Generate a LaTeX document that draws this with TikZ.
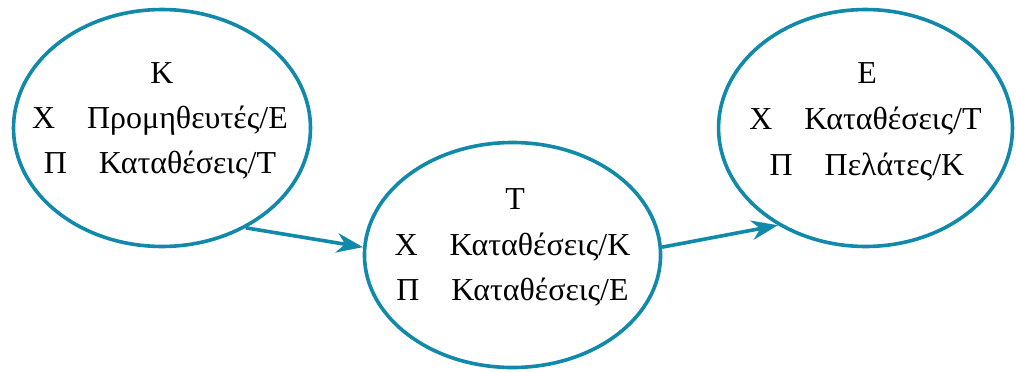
\documentclass[tikz,border=0pt]{standalone}
\usepackage{fontspec}
\setmainfont{Liberation Serif}
\usetikzlibrary{arrows.meta,shapes.geometric}
\definecolor{ringblue}{RGB}{16,137,170}
\begin{document}
\begin{tikzpicture}[x=0.36pt,y=-0.36pt,
  ring/.style={draw=ringblue,line width=1.3pt,ellipse,inner sep=0pt},
  lbl/.style={anchor=base,inner sep=0pt,font=\fontsize{11.5}{14}\selectfont},
  flow/.style={draw=ringblue,line width=1.3pt,-{Stealth[length=9.5pt,width=7pt,inset=3pt]}}]
\useasboundingbox (0,0) rectangle (1016,372);
\node[ring,minimum width=106.9pt,minimum height=85.3pt] (K) at (162,128) {};
\node[ring,minimum width=106.6pt,minimum height=81pt] (T) at (512.5,255) {};
\node[ring,minimum width=105.8pt,minimum height=85.3pt] (E) at (865.5,128) {};
\node[lbl] (k1) at (162,83) {Κ};
\node[lbl] (k2) at (160,128) {Χ\quad Προμηθευτές/Ε};
\node[lbl] (k3) at (160,173) {Π\quad Καταθέσεις/Τ};
\node[lbl] (t1) at (515,209) {Τ};
\node[lbl] (t2) at (512.5,255) {Χ\quad Καταθέσεις/Κ};
\node[lbl] (t3) at (512.5,300) {Π\quad Καταθέσεις/Ε};
\node[lbl] (e1) at (867,83) {Ε};
\node[lbl] (e2) at (865.5,129) {Χ\quad Καταθέσεις/Τ};
\node[lbl] (e3) at (867,175) {Π\quad Πελάτες/Κ};
\draw[flow] (K.-50) -- (T.177);
\draw[flow] (T.3) -- (E.228);
\end{tikzpicture}
\end{document}
